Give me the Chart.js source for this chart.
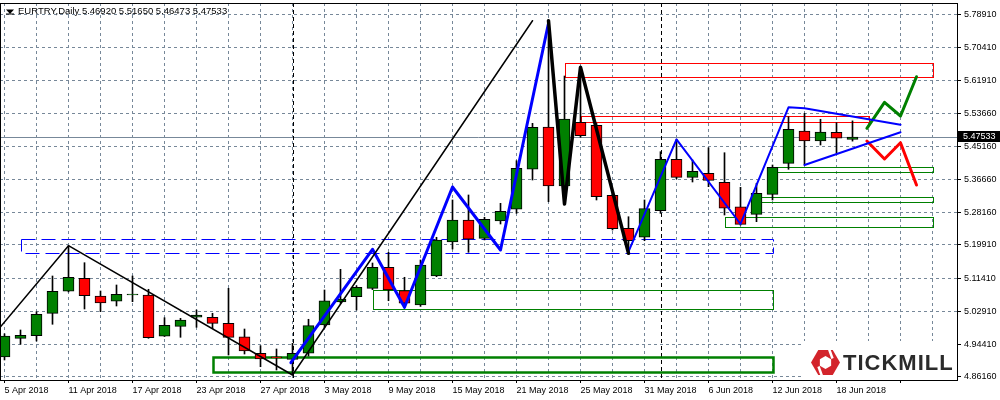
<!DOCTYPE html>
<html>
<head>
<meta charset="utf-8">
<script src="https://cdn.jsdelivr.net/npm/chart.js@4.4.1/dist/chart.umd.min.js"></script>
<style>
  html, body { margin: 0; padding: 0; background: #fff; }
  #wrap { width: 1000px; height: 400px; }
</style>
</head>
<body>
<div id="wrap"><canvas id="chart" width="1000" height="400"></canvas></div>
<script>
// EURTRY daily candles, 5 Apr 2018 .. 19 Jun 2018
var symbol = 'EURTRY';
var period = 'Daily';
var dateLabels = ['5 Apr 2018', '11 Apr 2018', '17 Apr 2018', '23 Apr 2018', '27 Apr 2018', '3 May 2018',
  '9 May 2018', '15 May 2018', '21 May 2018', '25 May 2018', '31 May 2018', '6 Jun 2018', '12 Jun 2018', '18 Jun 2018'];

var opens  = [4.9126, 4.9604, 4.9671, 5.0244, 5.0807, 5.1139, 5.0686, 5.0551, 5.0712, 5.0712,
              4.9656, 4.9911, 5.0142, 5.0142, 4.9988, 4.9645, 4.9221, 4.9108, 4.9067, 4.9221,
              4.9945, 5.0533, 5.0668, 5.0883, 5.1420, 5.0822, 5.0456, 5.1198, 5.2067, 5.2630,
              5.2162, 5.2604, 5.2904, 5.3927, 5.5009, 5.3500, 5.5129, 5.5052, 5.3262, 5.2418,
              5.2188, 5.2868, 5.4183, 5.3722, 5.3824, 5.3594, 5.2970, 5.2776, 5.3287, 5.4080,
              5.4906, 5.4651, 5.4873, 5.46920];
var highs  = [4.9720, 4.9817, 5.0285, 5.1198, 5.1973, 5.1538, 5.0814, 5.0968, 5.1198, 5.0858,
              5.0131, 5.0116, 5.0328, 5.0244, 5.0883, 4.9842, 4.9415, 4.9331, 4.9477, 5.0091,
              5.0840, 5.1368, 5.0950, 5.1530, 5.1804, 5.1165, 5.1607, 5.2188, 5.3142, 5.3270,
              5.2700, 5.3057, 5.4147, 5.5103, 5.7727, 5.6313, 5.6551, 5.5100, 5.3300, 5.2714,
              5.3142, 5.4377, 5.4694, 5.4165, 5.4479, 5.4351, 5.3466, 5.3569, 5.4037, 5.5272,
              5.5359, 5.5206, 5.5119, 5.51650];
var lows   = [4.9050, 4.9451, 4.9535, 4.9963, 5.0790, 5.0354, 5.0285, 5.0431, 5.0541, 4.9605,
              4.9650, 4.9630, 4.9886, 4.9850, 4.9177, 4.9203, 4.8878, 4.8794, 4.8680, 4.9150,
              4.9868, 5.0500, 5.0328, 5.0850, 5.0566, 5.0397, 5.0420, 5.1180, 5.1888, 5.1804,
              5.2120, 5.2528, 5.2801, 5.3653, 5.3098, 5.3039, 5.4745, 5.3142, 5.2374, 5.1778,
              5.2100, 5.2800, 5.3680, 5.3602, 5.3482, 5.2758, 5.2500, 5.2587, 5.3142, 5.3927,
              5.4037, 5.4548, 5.4336, 5.46473];
var closes = [4.9663, 4.9681, 5.0218, 5.0807, 5.1165, 5.0694, 5.0507, 5.0730, 5.0718, 4.9620,
              4.9937, 5.0073, 5.0200, 4.9988, 4.9630, 4.9280, 4.9075, 4.9104, 4.9221, 4.9927,
              5.0566, 5.0610, 5.0909, 5.1420, 5.0840, 5.0500, 5.1479, 5.2119, 5.2630, 5.2137,
              5.2648, 5.2853, 5.3952, 5.5001, 5.3500, 5.5213, 5.4786, 5.3226, 5.2408, 5.2100,
              5.2919, 5.4183, 5.3722, 5.3876, 5.3645, 5.2930, 5.2520, 5.3313, 5.3978, 5.4950,
              5.4651, 5.4881, 5.4720, 5.47533];

var yTicks = [5.7891, 5.7041, 5.6191, 5.5366, 5.4516, 5.3666, 5.2816, 5.1991, 5.1141, 5.0291, 4.9441, 4.8616];

// drawn objects, x = bar index, y = price
var trendX = [-0.25, 4, 18, 33];
var trendY = [4.9901, 5.1973, 4.8666, 5.7727];
var zigzagX = [34, 35, 36, 39];
var zigzagY = [5.7727, 5.3039, 5.6536, 5.1778];
var waveX = [17.9, 23, 25, 28, 31, 34];
var waveY = [4.8980, 5.1881, 5.0397, 5.3474, 5.1863, 5.7661];
var wave2X = [39, 42, 46, 49, 50, 56];
var wave2Y = [5.1819, 5.4694, 5.2528, 5.5513, 5.5487, 5.5068];
var triLowX = [50, 56];
var triLowY = [5.4037, 5.4873];
var bullX = [53.9, 55, 56, 57];
var bullY = [5.4975, 5.5640, 5.5290, 5.6295];
var bearX = [53.9, 55, 56, 57];
var bearY = [5.4651, 5.4191, 5.4607, 5.3525];

// boxes: [fromBar, toBar, lowPrice, highPrice]
var resistanceBoxes = [[35, 58, 5.6295, 5.6638], [36, 54, 5.5124, 5.5290]];
var supportBoxes = [[13, 48, 4.8735, 4.9134], [23, 48, 5.0346, 5.0840], [45, 58, 5.2443, 5.2699],
                    [47, 58, 5.3083, 5.3211], [48, 58, 5.3850, 5.3978]];
var channelBox = [1, 48, 5.1778, 5.2137];
var markerBars = [18, 41];

var GREEN = '#008000', RED = '#ff0000', BLUE = '#0000ff', GRID = '#778899';
var FONT = '"Liberation Sans", Arial, sans-serif';

function pts(xs, ys) {
  return xs.map(function (x, i) { return { x: x, y: ys[i] }; });
}

function lineSet(data, color, width) {
  return {
    type: 'line', data: data, borderColor: color, borderWidth: width,
    pointRadius: 0, fill: false, tension: 0, order: 1,
    borderCapStyle: 'round', borderJoinStyle: 'round'
  };
}

var wickData = opens.map(function (o, i) { return { x: i, y: [lows[i], highs[i]] }; });
var bodyData = opens.map(function (o, i) { return { x: i, y: [o, closes[i]] }; });
var bodyColors = opens.map(function (o, i) { return closes[i] >= o ? GREEN : RED; });

var overlay = {
  id: 'overlay',
  beforeDatasetsDraw: function (chart) {
    var ctx = chart.ctx, a = chart.chartArea, xs = chart.scales.x, ys = chart.scales.y;
    ctx.save();
    ctx.beginPath();
    ctx.rect(a.left, a.top, a.right - a.left, a.bottom - a.top);
    ctx.clip();

    // last price line
    var py = Math.round(ys.getPixelForValue(closes[closes.length - 1])) + 0.5;
    ctx.strokeStyle = GRID;
    ctx.lineWidth = 1;
    ctx.beginPath(); ctx.moveTo(a.left, py); ctx.lineTo(a.right, py); ctx.stroke();

    // vertical markers
    ctx.setLineDash([4, 3]);
    ctx.strokeStyle = '#000';
    markerBars.forEach(function (b) {
      var px = Math.round(xs.getPixelForValue(b)) + 0.5;
      ctx.beginPath(); ctx.moveTo(px, a.top); ctx.lineTo(px, a.bottom); ctx.stroke();
    });

    function box(b, color, w, dash) {
      var x1 = Math.round(xs.getPixelForValue(b[0])) + 0.5;
      var x2 = Math.round(xs.getPixelForValue(b[1])) + 0.5;
      var y1 = Math.round(ys.getPixelForValue(b[3])) + 0.5;
      var y2 = Math.round(ys.getPixelForValue(b[2])) + 0.5;
      ctx.setLineDash(dash);
      ctx.lineWidth = w;
      ctx.strokeStyle = color;
      ctx.strokeRect(x1, y1, x2 - x1, y2 - y1);
    }
    box(channelBox, BLUE, 1, [14, 6]);
    resistanceBoxes.forEach(function (b) { box(b, RED, 1, []); });
    supportBoxes.forEach(function (b, i) { box(b, GREEN, i === 0 ? 2.5 : 1, []); });
    ctx.restore();
  },
  afterDraw: function (chart) {
    var ctx = chart.ctx, a = chart.chartArea, ys = chart.scales.y;
    ctx.save();

    // logo panel
    ctx.fillStyle = '#fff';
    ctx.fillRect(804, 341, a.right - 804, a.bottom - 341);
    var cx = 825.5, cy = 362.5, r = 14.5, k;
    ctx.fillStyle = '#d3242b';
    ctx.beginPath();
    for (k = 0; k < 6; k++) {
      var ang = k * Math.PI / 3;
      ctx.lineTo(cx + r * Math.cos(ang), cy + r * Math.sin(ang));
    }
    ctx.closePath(); ctx.fill();
    ctx.fillStyle = '#fff';
    ctx.beginPath();
    for (k = 0; k < 6; k++) {
      var ang2 = k * Math.PI / 3 + Math.PI / 6;
      ctx.lineTo(cx + 6.5 * Math.cos(ang2), cy + 6.5 * Math.sin(ang2));
    }
    ctx.closePath(); ctx.fill();
    ctx.strokeStyle = '#fff';
    ctx.lineWidth = 2.5;
    ctx.beginPath(); ctx.moveTo(cx + 3, cy - 15); ctx.lineTo(cx + 7, cy - 4); ctx.stroke();
    ctx.beginPath(); ctx.moveTo(cx - 3, cy + 15); ctx.lineTo(cx - 7, cy + 4); ctx.stroke();
    ctx.fillStyle = '#2b2b2b';
    ctx.font = 'bold 22px ' + FONT;
    ctx.textAlign = 'left';
    ctx.textBaseline = 'alphabetic';
    if ('letterSpacing' in ctx) ctx.letterSpacing = '1px';
    ctx.fillText('TICKMILL', 843, 369.5);
    if ('letterSpacing' in ctx) ctx.letterSpacing = '0px';

    // frame
    ctx.strokeStyle = '#000';
    ctx.lineWidth = 1;
    ctx.strokeRect(a.left + 0.5, a.top + 0.5, a.right - a.left, a.bottom - a.top);

    // last price tag
    var last = closes[closes.length - 1];
    var py = ys.getPixelForValue(last);
    ctx.fillStyle = '#000';
    ctx.fillRect(a.right + 1, Math.round(py) - 6, 43, 11);
    ctx.fillStyle = '#fff';
    ctx.font = '9px ' + FONT;
    ctx.textBaseline = 'middle';
    ctx.fillText(last.toFixed(5), a.right + 6, Math.round(py));

    // title
    ctx.fillStyle = '#000';
    ctx.beginPath(); ctx.moveTo(6, 9.5); ctx.lineTo(14, 9.5); ctx.lineTo(10, 14); ctx.closePath(); ctx.fill();
    ctx.fillRect(6, 13.5, 8, 1);
    ctx.font = '9.5px ' + FONT;
    var n = closes.length - 1;
    var title = symbol + ',' + period + ' ' + opens[n].toFixed(5) + ' ' + highs[n].toFixed(5) + ' ' +
      lows[n].toFixed(5) + ' ' + closes[n].toFixed(5);
    ctx.fillText(title, 18, 11);
    ctx.restore();
  }
};

new Chart(document.getElementById('chart').getContext('2d'), {
  type: 'bar',
  plugins: [overlay],
  data: {
    datasets: [
      lineSet(pts(trendX, trendY), '#000', 1.5),
      lineSet(pts(zigzagX, zigzagY), '#000', 3.5),
      lineSet(pts(waveX, waveY), BLUE, 3),
      lineSet(pts(wave2X, wave2Y), BLUE, 2),
      lineSet(pts(triLowX, triLowY), BLUE, 2),
      lineSet(pts(bullX, bullY), GREEN, 3),
      lineSet(pts(bearX, bearY), RED, 3),
      {
        data: bodyData, backgroundColor: bodyColors, borderColor: '#000', borderWidth: 1,
        borderSkipped: false, barThickness: 11, minBarLength: 1, grouped: false, order: 2
      },
      {
        data: wickData, backgroundColor: '#000', borderWidth: 0,
        barThickness: 1, grouped: false, order: 3
      }
    ]
  },
  options: {
    responsive: false,
    animation: false,
    layout: { padding: { top: 3, left: 0, right: 0, bottom: 0 } },
    plugins: { legend: { display: false }, tooltip: { enabled: false } },
    scales: {
      x: {
        type: 'linear', min: -0.28125, max: 59.53125, offset: false, bounds: 'data',
        afterBuildTicks: function (s) {
          var t = [];
          for (var v = 0; v <= 58; v += 2) t.push({ value: v });
          s.ticks = t;
        },
        afterFit: function (s) { s.height = 20; s.paddingLeft = 0; s.paddingRight = 0; },
        grid: {
          offset: false, color: GRID, lineWidth: 1, drawTicks: true, tickLength: 3,
          tickBorderDash: [], tickWidth: 1,
          tickColor: function (c) { return c.tick && c.tick.value % 4 === 0 ? '#000' : 'rgba(0,0,0,0)'; }
        },
        border: { display: false, dash: [3, 3] },
        ticks: {
          autoSkip: false, maxRotation: 0, minRotation: 0, align: 'start', padding: 2,
          color: '#000', font: { family: FONT, size: 9 },
          callback: function (v) { return v % 4 === 0 ? (dateLabels[v / 4] || '') : ''; }
        }
      },
      y: {
        position: 'right', min: 4.8538, max: 5.8180, bounds: 'data',
        afterBuildTicks: function (s) { s.ticks = yTicks.map(function (v) { return { value: v }; }); },
        afterFit: function (s) { s.width = 43; s.paddingTop = 0; s.paddingBottom = 0; },
        grid: { color: GRID, lineWidth: 1, tickLength: 4, tickColor: '#000', tickBorderDash: [], tickWidth: 1 },
        border: { display: false, dash: [3, 3] },
        ticks: {
          padding: 3, color: '#000', font: { family: FONT, size: 9 },
          callback: function (v) { return Number(v).toFixed(5); }
        }
      }
    }
  }
});
</script>
</body>
</html>
